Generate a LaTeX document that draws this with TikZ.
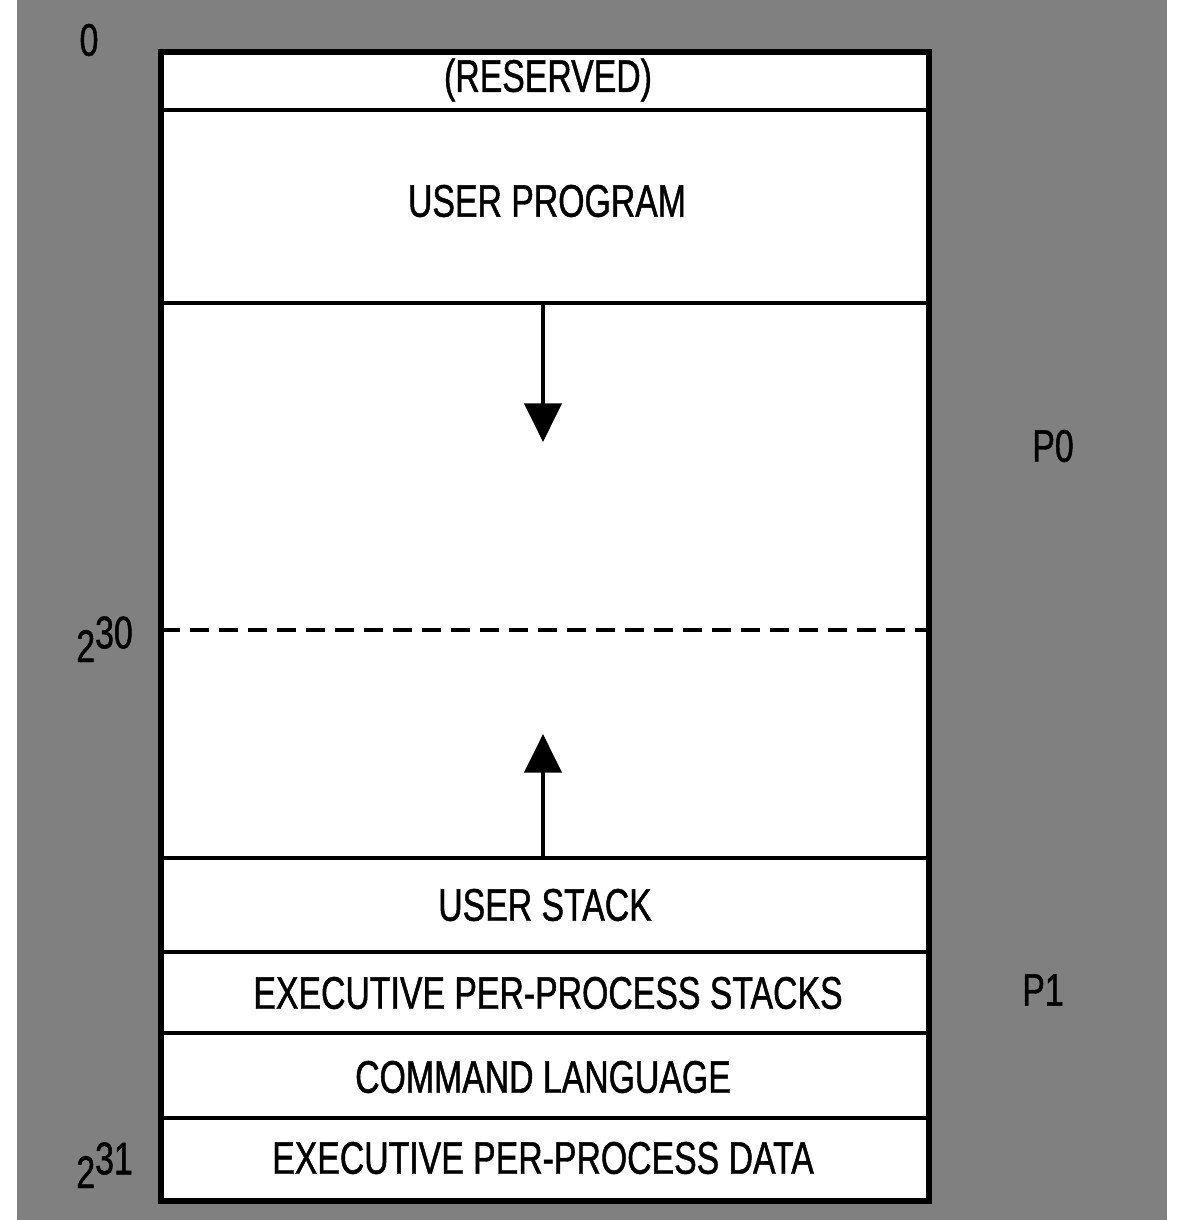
\documentclass[tikz,border=0pt]{standalone}
\usepackage{fontspec}
\usetikzlibrary{arrows.meta}
\setmainfont[FakeStretch=0.74,FakeBold=1]{Liberation Sans}
\definecolor{halftone}{gray}{0.5}
\tikzset{
  outer/.style={line width=3.4pt},
  inner/.style={line width=2.4pt},
  sep/.style={line width=2.4pt, dash pattern=on 0.38cm off 0.2cm},
  arr/.style={line width=2.8pt, -{Triangle[width=21pt,length=22pt]}},
  lbl/.style={inner sep=0pt, font=\fontsize{26}{30}\selectfont},
  side/.style={inner sep=0pt, font=\fontsize{26}{30}\selectfont}
}
\begin{document}
\begin{tikzpicture}[x=0.02cm,y=-0.02cm]
\useasboundingbox (0,0) rectangle (1178,1220);
\fill[white] (0,0) rectangle (1178,1220);
\fill[halftone] (17,0) rectangle (1167,1220);
\fill[white] (161,52) rectangle (929,1201);
% dividers
\draw[inner] (161,110) -- (929,110);
\draw[inner] (161,303) -- (929,303);
\draw[sep] (161,630) -- (929,630);
\draw[inner] (161,858) -- (929,858);
\draw[inner] (161,952) -- (929,952);
\draw[inner] (161,1033) -- (929,1033);
\draw[inner] (161,1118) -- (929,1118);
\draw[outer] (161,52) rectangle (929,1201);
% texts
\node[lbl] (res) at (548,80) {(RESERVED)};
\node[lbl] (prog) at (547,201) {USER PROGRAM};
\node[lbl] (ustack) at (545,905) {USER STACK};
\node[lbl] (estack) at (548,993) {EXECUTIVE PER-PROCESS STACKS};
\node[lbl] (cmd) at (543,1077) {COMMAND LANGUAGE};
\node[lbl] (edata) at (543,1158) {EXECUTIVE PER-PROCESS DATA};
% arrows
\coordinate (d0) at (543,304);
\coordinate (d1) at (543,442);
\coordinate (u0) at (543,857);
\coordinate (u1) at (543,734);
\draw[arr] (d0) -- (d1);
\draw[arr] (u0) -- (u1);
% side labels
\node[side] (zero) at (89,40) {0};
\node[side, anchor=base west] (e30) at (76,662) {2\raisebox{0.3em}{30}};
\node[side, anchor=base west] (e31) at (76,1188) {2\raisebox{0.3em}{31}};
\node[side] (p0) at (1053,446) {P0};
\node[side] (p1) at (1043,990) {P1};
\end{tikzpicture}
\end{document}
